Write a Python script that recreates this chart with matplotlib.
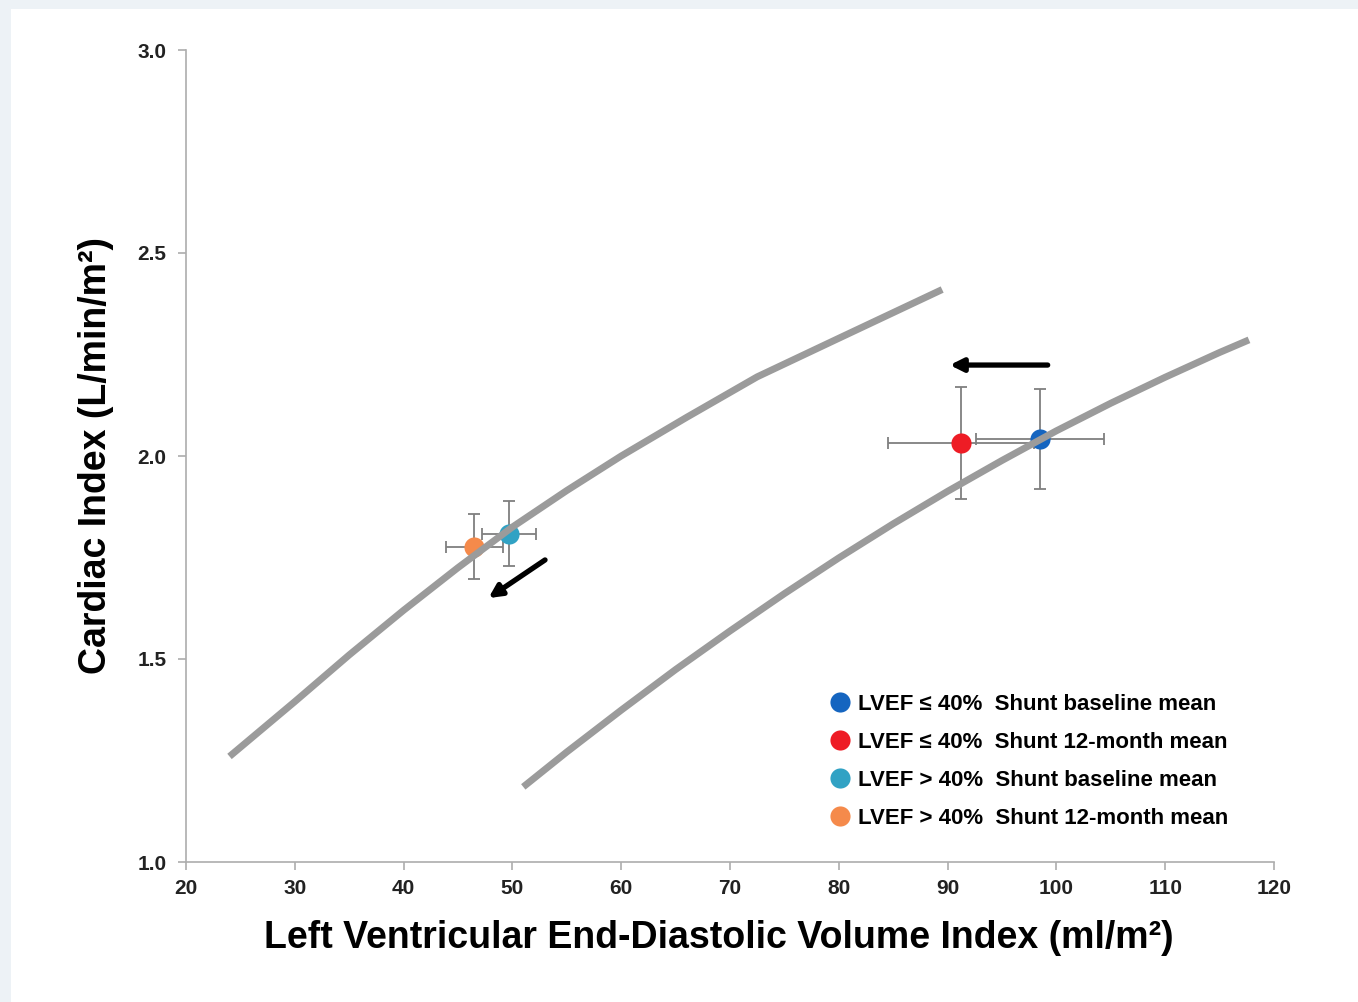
import matplotlib
matplotlib.use('Agg')
import matplotlib.pyplot as plt
from matplotlib.patches import Rectangle

# curves
curve1_x = [24, 30, 35, 40, 45, 50, 55, 60, 66, 72.5, 80, 89.5]
curve1_y = [1.26, 1.395, 1.51, 1.62, 1.725, 1.825, 1.915, 2.0, 2.095, 2.195,
            2.29, 2.41]
curve2_x = [51, 55, 60, 65, 70, 75, 80, 85, 90, 95, 100, 105, 110, 115, 117.7]
curve2_y = [1.185, 1.271, 1.374, 1.474, 1.569, 1.661, 1.749, 1.833, 1.913,
            1.989, 2.062, 2.130, 2.194, 2.255, 2.286]

# group means with error bars
labels = ['LVEF \u2264 40%  Shunt baseline mean',
          'LVEF \u2264 40%  Shunt 12-month mean',
          'LVEF > 40%  Shunt baseline mean',
          'LVEF > 40%  Shunt 12-month mean']
pt_x = [98.5, 91.2, 49.7, 46.5]
pt_y = [2.042, 2.032, 1.808, 1.776]
err_x = [5.9, 6.7, 2.5, 2.6]
err_y = [0.123, 0.137, 0.08, 0.08]
colors = ['#1565c0', '#ee1c25', '#31a2c4', '#f58a4b']

plt.rcParams['font.family'] = ['Liberation Sans', 'DejaVu Sans']

fig = plt.figure(figsize=(13.58, 10.02), dpi=100)
fig.patch.set_facecolor('#edf2f6')
fig.patches.append(Rectangle((11/1358, 0), 1, 1 - 9/1002, transform=fig.transFigure,
                             facecolor='white', edgecolor='none', zorder=-10))

ax = fig.add_axes([186/1358, 140/1002, 1088/1358, 812/1002])
ax.set_facecolor('none')

for i in range(4):
    ax.errorbar(pt_x[i], pt_y[i], xerr=err_x[i], yerr=err_y[i], fmt='none',
                ecolor='#7f7f7f', elinewidth=1.3, capsize=4, capthick=1.3, zorder=2)
    ax.plot(pt_x[i], pt_y[i], 'o', ms=14.5, color=colors[i], mec='none',
            label=labels[i], zorder=3)

ax.plot(curve1_x, curve1_y, color='#9b9b9b', lw=5, solid_capstyle='butt', zorder=4)
ax.plot(curve2_x, curve2_y, color='#9b9b9b', lw=5, solid_capstyle='butt', zorder=4)

arrow = dict(arrowstyle='-|>', color='black', lw=3.8, mutation_scale=19,
             shrinkA=0, shrinkB=0)
ax.annotate('', xy=(90.2, 2.224), xytext=(99.2, 2.224), arrowprops=arrow, zorder=5)
ax.annotate('', xy=(47.8, 1.650), xytext=(53.0, 1.744), arrowprops=arrow, zorder=5)

ax.set_xlim(20, 120)
ax.set_ylim(1.0, 3.0)
ax.set_xticks(range(20, 121, 10))
ax.set_yticks([1.0, 1.5, 2.0, 2.5, 3.0])
ax.set_yticklabels(['1.0', '1.5', '2.0', '2.5', '3.0'])
for s in ['top', 'right']:
    ax.spines[s].set_visible(False)
for s in ['left', 'bottom']:
    ax.spines[s].set_color('#adadad')
    ax.spines[s].set_linewidth(1.2)
ax.tick_params(colors='#adadad', length=6, width=1.2, labelcolor='#222222',
               labelsize=15)
for t in ax.get_xticklabels() + ax.get_yticklabels():
    t.set_fontweight('bold')
ax.tick_params(axis='x', pad=6)
ax.tick_params(axis='y', pad=8)

ax.set_xlabel('Left Ventricular End-Diastolic Volume Index (ml/m\u00b2)',
              fontsize=27, fontweight='bold')
ax.xaxis.set_label_coords(0.49, -0.071)
ax.set_ylabel('Cardiac Index (L/min/m\u00b2)', fontsize=27, fontweight='bold',
              labelpad=17)

ax.legend(loc='upper left', bbox_to_anchor=(0.585, 0.218), frameon=False,
          handlelength=0.8, handletextpad=0.4, labelspacing=0.77,
          prop={'weight': 'bold', 'size': 16}, borderaxespad=0)

fig.savefig('out.png', dpi=100, facecolor=fig.get_facecolor())
